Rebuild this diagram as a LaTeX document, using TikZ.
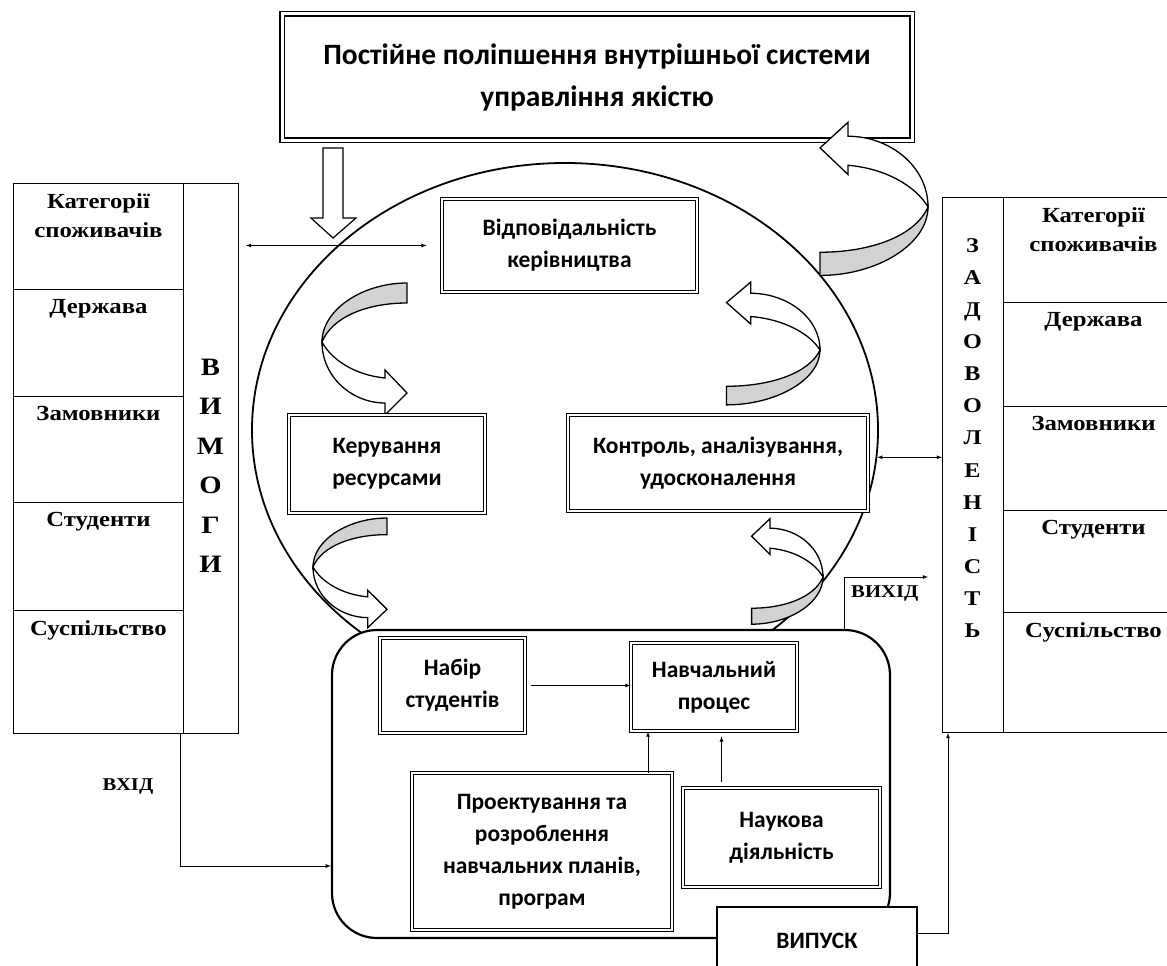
\documentclass[tikz,border=0pt]{standalone}
\usepackage{fontspec}
\setmainfont{Liberation Serif}[FakeStretch=1.15]
\newfontfamily\carl{Carlito}
\usetikzlibrary{arrows,positioning,shapes.geometric}

\tikzset{
  box/.style={draw, double, double distance=2.2pt, line width=0.8pt, fill=white,
    align=center, font=\carl\bfseries\fontsize{23.5}{32}\selectfont},
  cell/.style={draw, line width=1pt, anchor=north west, minimum width=170},
  celltext/.style={align=center, inner sep=0pt, font=\bfseries\fontsize{21.5}{29}\selectfont},
  conn/.style={line width=0.8pt},
  curl/.pic={
    \draw[line width=1.3pt, fill=gray!35] (0,0) .. controls (0,-32) and (40,-59) .. (85,-59)
      -- (85,-39) .. controls (45,-39) and (10,-25) .. (0,0) -- cycle;
    \draw[line width=1.3pt, fill=white] (0,0) .. controls (0,35) and (30,61) .. (63,61)
      -- (63,73) -- (85,51) -- (63,28) -- (63,36) .. controls (32,33) and (9,17) .. (0,0) -- cycle;
  }
}

\begin{document}
\begin{tikzpicture}[x=1pt, y=-1pt]
  \useasboundingbox (0,0) rectangle (1167,966);

  %circle
  \node[draw, ellipse, line width=1.8pt, minimum width=626, minimum height=534] (circ) at (565,430) {};

  %top box
  \node[draw, double, double distance=3pt, line width=1.4pt, fill=white, minimum width=630,
    minimum height=126, align=center, font=\carl\bfseries\fontsize{29.5}{42}\selectfont]
    (improve) at (597,77) {Постійне поліпшення внутрішньої системи\\управління якістю};

  \draw[line width=1.2pt, fill=white] (323,148) -- (343,148) -- (343,218) -- (356,218)
    -- (333,238) -- (311,218) -- (323,218) -- cycle;

  %curved arrows
  \pic at (322,342) {curl};
  \pic[xscale=0.87, yscale=0.83] at (313,567) {curl};
  \pic[xscale=-1.1, yscale=-0.93] at (820,350) {curl};
  \pic[xscale=-0.84, yscale=-0.8] at (823,577) {curl};
  \pic[xscale=-1.27, yscale=-1.16] at (928,207) {curl};

  %inside the circle
  \node[box, minimum width=255, minimum height=93] (resp) at (569.5,245.5) {Відповідальність\\керівництва};
  \node[box, minimum width=196, minimum height=98] (res) at (387,464) {Керування\\ресурсами};
  \node[box, minimum width=300, minimum height=96] (ctrl) at (718,463) {Контроль, аналізування,\\удосконалення};

  %process block
  \node[draw, line width=2.2pt, rounded corners=45pt, fill=white, minimum width=558,
    minimum height=308] (proc) at (611,784) {};
  \node[box, minimum width=145, minimum height=95] (nabir) at (452.5,685.5) {Набір\\студентів};
  \node[box, minimum width=166, minimum height=88] (navch) at (714,687) {Навчальний\\процес};
  \node[box, minimum width=260, minimum height=157] (proekt) at (542,851.5)
    {Проектування та\\розроблення\\навчальних планів,\\програм};
  \node[box, minimum width=197, minimum height=99] (nauk) at (781.5,837.5) {Наукова\\діяльність};
  \node[draw, line width=2.5pt, fill=white, minimum width=200, minimum height=68,
    font=\carl\bfseries\fontsize{23.5}{26}\selectfont] (vyp) at (817,941) {ВИПУСК};

  %left table
  \node[cell, minimum height=106] (l1) at (13,183) {};
  \node[cell, minimum height=107] (l2) at (13,289) {};
  \node[cell, minimum height=106] (l3) at (13,396) {};
  \node[cell, minimum height=108] (l4) at (13,502) {};
  \node[cell, minimum height=123] (l5) at (13,610) {};
  \node[cell, minimum width=55, minimum height=550] (vym) at (183,183) {};
  \node[celltext, below=10pt of l1.north] {Категорії\\споживачів};
  \node[celltext, below=10pt of l2.north] {Держава};
  \node[celltext, below=10pt of l3.north] {Замовники};
  \node[celltext, below=10pt of l4.north] {Студенти};
  \node[celltext, below=10pt of l5.north] {Суспільство};
  \node[align=center, inner sep=0pt, font=\bfseries\fontsize{25}{39.5}\selectfont]
    (vymtxt) at (210.5,466) {В\\И\\М\\О\\Г\\И};

  %right table
  \node[cell, minimum width=61, minimum height=535] (zad) at (942,197) {};
  \node[cell, minimum width=180, minimum height=105] (r1) at (1003,197) {};
  \node[cell, minimum width=180, minimum height=104] (r2) at (1003,302) {};
  \node[cell, minimum width=180, minimum height=104] (r3) at (1003,406) {};
  \node[cell, minimum width=180, minimum height=102] (r4) at (1003,510) {};
  \node[cell, minimum width=180, minimum height=120] (r5) at (1003,612) {};
  \node[celltext, below=10pt of r1.north] {Категорії\\споживачів};
  \node[celltext, below=10pt of r2.north] {Держава};
  \node[celltext, below=10pt of r3.north] {Замовники};
  \node[celltext, below=10pt of r4.north] {Студенти};
  \node[celltext, below=10pt of r5.north] {Суспільство};
  \node[align=center, inner sep=0pt, font=\bfseries\fontsize{21}{32.08}\selectfont]
    (zadtxt) at (972.5,438) {З\\А\\Д\\О\\В\\О\\Л\\Е\\Н\\І\\С\\Т\\Ь};

  %connectors
  \draw[conn, latex-latex, shorten <=7pt, shorten >=15pt] (resp.west -| vym.east) -- (resp.west);
  \draw[conn, latex-latex] (circ.-5) -- (circ.-5 -| zad.west);
  \draw[conn, -latex] ([yshift=8pt]vyp.east) -| ([xshift=6pt]zad.south west);
  \coordinate (exitp) at (928,577);
  \draw[conn, -latex] ([xshift=233pt]proc.north) |- (exitp);
  \node[anchor=north west, inner sep=0pt, font=\bfseries\fontsize{18}{20}\selectfont] (exitlbl) at (851,586) {ВИХІД};
  \draw[conn, -latex] ([xshift=-4pt]l5.south east) |- ([yshift=-82pt]proc.west);
  \node[anchor=base, inner sep=0pt, font=\bfseries\fontsize{18}{20}\selectfont] (inlbl) at (128,790) {ВХІД};
  \draw[conn, -latex, shorten <=6pt] (nabir.east) -- (nabir.east -| navch.west);
  \draw[conn, -latex] ([xshift=106pt]proekt.north) -- ([xshift=106pt]proekt.north |- navch.south);
  \draw[conn, -latex, shorten <=6pt, shorten >=5pt] ([xshift=-60pt]nauk.north) -- ([xshift=-60pt]nauk.north |- navch.south);
\end{tikzpicture}
\end{document}
